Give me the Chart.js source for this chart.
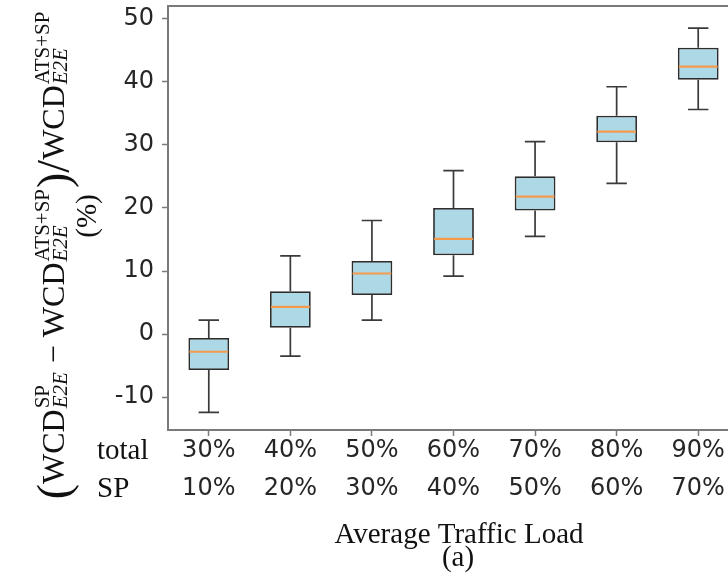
<!DOCTYPE html>
<html>
<head>
<meta charset="utf-8">
<script src="https://cdn.jsdelivr.net/npm/chart.js@4.4.1/dist/chart.umd.min.js"></script>
<style>
  html, body { margin: 0; padding: 0; overflow: hidden; background: #fff; }
  #wrap { position: absolute; left: 0; top: 0; width: 745px; height: 580px; }
</style>
</head>
<body>
<div id="wrap"><canvas id="boxChart" width="745" height="580"></canvas></div>
<script>
// categories: two rows of tick labels
const totalLoad = ['30%', '40%', '50%', '60%', '70%', '80%', '90%'];
const spLoad    = ['10%', '20%', '30%', '40%', '50%', '60%', '70%'];

// box plot statistics (%)
const whiskerLow  = [-12.4, -3.5,  2.2,  9.2, 15.5, 23.9, 35.6];
const q1          = [ -5.7,  1.0,  6.2, 12.5, 19.6, 30.4, 40.3];
const median      = [ -2.8,  4.3,  9.6, 15.1, 21.8, 32.1, 42.4];
const q3          = [ -0.6,  6.8, 11.6, 20.0, 25.0, 34.6, 45.4];
const whiskerHigh = [  2.2, 12.4, 18.0, 25.9, 30.5, 39.2, 48.5];

// y axis
const yMin = -15.2;
const yMax = 52;
const yStep = 10;

const labels = totalLoad.map((t, i) => [t, spLoad[i]]);
const boxes = q1.map((v, i) => [v, q3[i]]);

const serif = "'Liberation Serif', 'Times New Roman', serif";
const mainFont = "29px " + serif;
const mathFont = "32px " + serif;
const bigFont = "46px " + serif;
const scriptFont = "21px " + serif;
const scriptItalic = "italic 21px " + serif;

// pieces of the y-axis formula, written left to right
const formula = [
  { text: '(', font: bigFont, dy: 5 },
  { text: 'WCD', font: mathFont },
  { sup: 'SP', sub: 'E2E' },
  { text: ' \u2212 ', font: mathFont },
  { text: 'WCD', font: mathFont },
  { sup: 'ATS+SP', sub: 'E2E' },
  { text: ')', font: bigFont, dy: 5 },
  { text: '/', font: bigFont, dy: 5 },
  { text: 'WCD', font: mathFont },
  { sup: 'ATS+SP', sub: 'E2E' }
];

function pieceWidth(ctx, p) {
  if (p.text !== undefined) {
    ctx.font = p.font;
    return ctx.measureText(p.text).width;
  }
  ctx.font = scriptFont;
  const a = ctx.measureText(p.sup).width;
  ctx.font = scriptItalic;
  const b = ctx.measureText(p.sub).width;
  return Math.max(a, b) + 2;
}

function drawFormula(ctx, cy, baseX) {
  const widths = formula.map(p => pieceWidth(ctx, p));
  const total = widths.reduce((s, w) => s + w, 0);
  ctx.save();
  ctx.translate(baseX, cy);
  ctx.rotate(-Math.PI / 2);
  ctx.fillStyle = '#111';
  ctx.textAlign = 'left';
  ctx.textBaseline = 'alphabetic';
  let x = -total / 2;
  formula.forEach((p, i) => {
    if (p.text !== undefined) {
      ctx.font = p.font;
      ctx.fillText(p.text, x, p.dy || 0);
    } else {
      ctx.font = scriptFont;
      ctx.fillText(p.sup, x + 1, -15);
      ctx.font = scriptItalic;
      ctx.fillText(p.sub, x + 1, 3);
    }
    x += widths[i];
  });
  ctx.restore();
}

// draws whiskers, caps and medians on top of the floating-bar boxes
const boxPlotExtras = {
  id: 'boxPlotExtras',
  afterDatasetsDraw(chart) {
    const ctx = chart.ctx;
    const yScale = chart.scales.y;
    const meta = chart.getDatasetMeta(0);
    ctx.save();
    meta.data.forEach((bar, i) => {
      const x = bar.x;
      const half = bar.width / 2;
      const capHalf = bar.width / 4;
      const yLo = yScale.getPixelForValue(whiskerLow[i]);
      const yQ1 = yScale.getPixelForValue(q1[i]);
      const yQ3 = yScale.getPixelForValue(q3[i]);
      const yHi = yScale.getPixelForValue(whiskerHigh[i]);
      const yMed = yScale.getPixelForValue(median[i]);

      ctx.strokeStyle = '#3a3a3a';
      ctx.lineWidth = 1.7;
      ctx.beginPath();
      ctx.moveTo(x, yQ3); ctx.lineTo(x, yHi);
      ctx.moveTo(x - capHalf, yHi); ctx.lineTo(x + capHalf, yHi);
      ctx.moveTo(x, yQ1); ctx.lineTo(x, yLo);
      ctx.moveTo(x - capHalf, yLo); ctx.lineTo(x + capHalf, yLo);
      ctx.stroke();

      ctx.strokeStyle = '#f39a4c';
      ctx.lineWidth = 2.2;
      ctx.beginPath();
      ctx.moveTo(x - half + 1, yMed); ctx.lineTo(x + half - 1, yMed);
      ctx.stroke();
    });
    ctx.restore();
  },
  afterDraw(chart) {
    const ctx = chart.ctx;
    const area = chart.chartArea;
    const xScale = chart.scales.x;

    // frame
    ctx.save();
    ctx.strokeStyle = '#7a7a7a';
    ctx.lineWidth = 2;
    ctx.strokeRect(area.left, area.top, area.right - area.left, area.bottom - area.top);
    ctx.restore();

    // row names beside the tick labels
    ctx.save();
    ctx.fillStyle = '#111';
    ctx.font = mainFont;
    ctx.textAlign = 'left';
    ctx.textBaseline = 'middle';
    ctx.fillText('total', 97, xScale.top + 21);
    ctx.fillText('SP', 97, xScale.top + 59);

    // axis title and caption
    ctx.textAlign = 'center';
    ctx.textBaseline = 'alphabetic';
    ctx.fillText('Average Traffic Load', 459, 543);
    ctx.fillText('(a)', 458, 566);

    // rotated y-axis title
    drawFormula(ctx, 255, 64);
    ctx.font = mainFont;
    ctx.save();
    ctx.translate(96, 216);
    ctx.rotate(-Math.PI / 2);
    ctx.textAlign = 'center';
    ctx.fillText('(%)', 0, 0);
    ctx.restore();
    ctx.restore();
  }
};

const ctx = document.getElementById('boxChart').getContext('2d');
new Chart(ctx, {
  type: 'bar',
  data: {
    labels: labels,
    datasets: [{
      data: boxes,
      backgroundColor: '#add8e6',
      borderColor: '#2e2e2e',
      borderWidth: 1.8,
      borderSkipped: false,
      categoryPercentage: 1.0,
      barPercentage: 0.5
    }]
  },
  options: {
    responsive: false,
    animation: false,
    layout: { padding: { left: 0, top: 6, right: 6, bottom: 0 } },
    plugins: {
      legend: { display: false },
      tooltip: { enabled: false }
    },
    scales: {
      x: {
        offset: true,
        grid: {
          offset: false,
          drawOnChartArea: false,
          drawTicks: true,
          tickLength: 6,
          tickWidth: 1.5,
          tickColor: '#7a7a7a'
        },
        border: { display: false },
        ticks: {
          color: '#262626',
          padding: -4,
          maxRotation: 0,
          autoSkip: false,
          font: { family: 'DejaVu Sans', size: 24, lineHeight: 38 / 24 }
        },
        afterFit(scale) {
          scale.height = 150;
          scale.paddingLeft = 0;
          scale.paddingRight = 0;
        }
      },
      y: {
        min: yMin,
        max: yMax,
        grid: {
          drawOnChartArea: false,
          drawTicks: true,
          tickLength: 6,
          tickWidth: 1.5,
          tickColor: '#7a7a7a'
        },
        border: { display: false },
        ticks: {
          stepSize: yStep,
          includeBounds: false,
          color: '#262626',
          padding: 8,
          font: { family: 'DejaVu Sans', size: 24 }
        },
        afterFit(scale) {
          scale.width = 168;
          scale.paddingTop = 0;
          scale.paddingBottom = 0;
        }
      }
    }
  },
  plugins: [boxPlotExtras]
});
</script>
</body>
</html>
